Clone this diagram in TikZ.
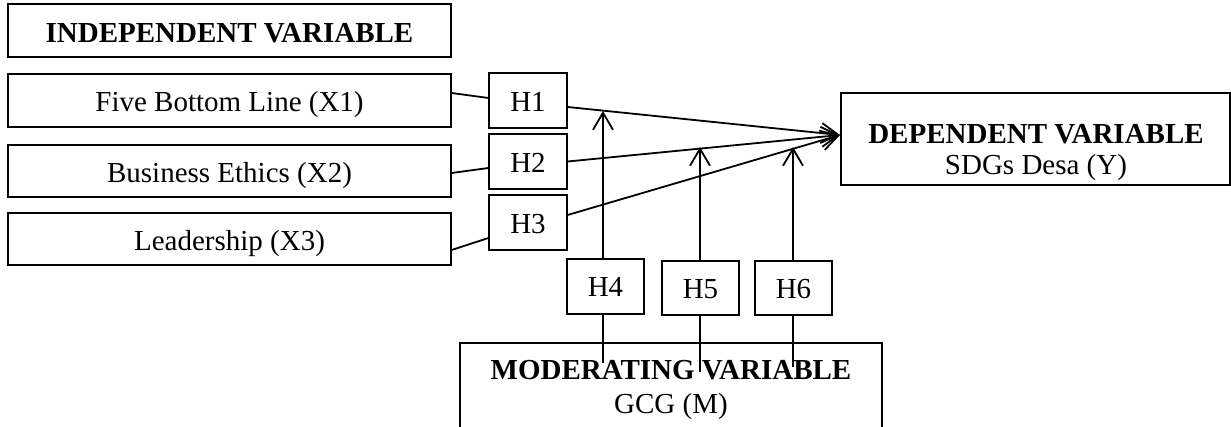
\documentclass[tikz,border=0pt]{standalone}
\usepackage{fontspec}
\setmainfont{Liberation Serif}
\usetikzlibrary{arrows.meta}
\begin{document}
\begin{tikzpicture}[x=1pt,y=-1pt,
  txt/.style={font=\fontsize{29}{31}\selectfont,align=center,inner sep=0pt},
  varbox/.style={draw,line width=1.2pt,inner sep=0pt,font=\fontsize{29}{33}\selectfont,align=center},
  oneline/.style={varbox,text height=23pt,text depth=0pt},
  link/.style={line width=1.8pt},
  arr/.style={link,-{Straight Barb[length=17pt,width=20pt,line width=1.8pt]}}]
\useasboundingbox (0,0) rectangle (1231,427);

% independent variables
\node[varbox,text height=25pt,text depth=0pt,minimum width=443pt,minimum height=53pt] (indep) at (229.5,30.5) {\textbf{INDEPENDENT VARIABLE}};
\node[oneline,minimum width=443pt,minimum height=53pt] (x1) at (229.5,100.5) {Five Bottom Line (X1)};
\node[oneline,minimum width=443pt,minimum height=52pt] (x2) at (229.5,171) {Business Ethics (X2)};
\node[oneline,minimum width=443pt,minimum height=52pt] (x3) at (229.5,239) {Leadership (X3)};

% hypotheses on the direct paths
\node[oneline,minimum width=78pt,minimum height=55pt] (h1) at (528,100.5) {H1};
\node[oneline,minimum width=78pt,minimum height=55pt] (h2) at (528,161.5) {H2};
\node[oneline,minimum width=78pt,minimum height=55pt] (h3) at (528,222.5) {H3};

% dependent variable
\node[varbox,minimum width=389pt,minimum height=92pt] (dep) at (1035.5,139) {};
\node[txt] (deptext) at (1036,153) {\textbf{DEPENDENT VARIABLE}\\SDGs Desa (Y)};

% hypotheses on the moderating paths
\node[varbox,text height=21pt,text depth=0pt,minimum width=77pt,minimum height=55pt] (h4) at (605.5,286.5) {H4};
\node[varbox,text height=21pt,text depth=0pt,minimum width=77pt,minimum height=54pt] (h5) at (700.5,288) {H5};
\node[varbox,text height=21pt,text depth=0pt,minimum width=77pt,minimum height=54pt] (h6) at (793.5,288) {H6};

% moderating variable (runs past the lower edge)
\begin{scope}
\clip (0,0) rectangle (1231,427);
\node[varbox,minimum width=422pt,minimum height=120pt] (mod) at (671,403) {};
\end{scope}
\node[txt,font=\fontsize{29}{33}\selectfont] (modtext) at (671,390) {\textbf{MODERATING VARIABLE}\\[1pt]GCG (M)};

% path end points
\coordinate (tip) at (840,135);
\coordinate (t4) at (603,111);
\coordinate (t5) at (700,147);
\coordinate (t6) at (793,147);
\coordinate (m4) at (603,363);
\coordinate (m5) at (700,372);
\coordinate (m6) at (793,367);

% independent -> hypothesis boxes
\draw[link] ([yshift=7.5pt]x1.east) -- ([yshift=2.5pt]h1.west);
\draw[link] ([yshift=-2pt]x2.east) -- ([yshift=-6.5pt]h2.west);
\draw[link] ([yshift=-11pt]x3.east) -- ([yshift=-15.5pt]h3.west);

% hypothesis boxes -> dependent
\draw[arr] ([yshift=-6.5pt]h1.east) -- (tip);
\draw[arr] (h2.east) -- (tip);
\draw[arr] ([yshift=7.5pt]h3.east) -- (tip);

% moderating effects
\draw[link] (m4) -- (m4 |- h4.south);
\draw[arr] (m4 |- h4.north) -- (t4);
\draw[link] (m5) -- (m5 |- h5.south);
\draw[arr] (m5 |- h5.north) -- (t5);
\draw[link] (m6) -- (m6 |- h6.south);
\draw[arr] (m6 |- h6.north) -- (t6);
\end{tikzpicture}
\end{document}
